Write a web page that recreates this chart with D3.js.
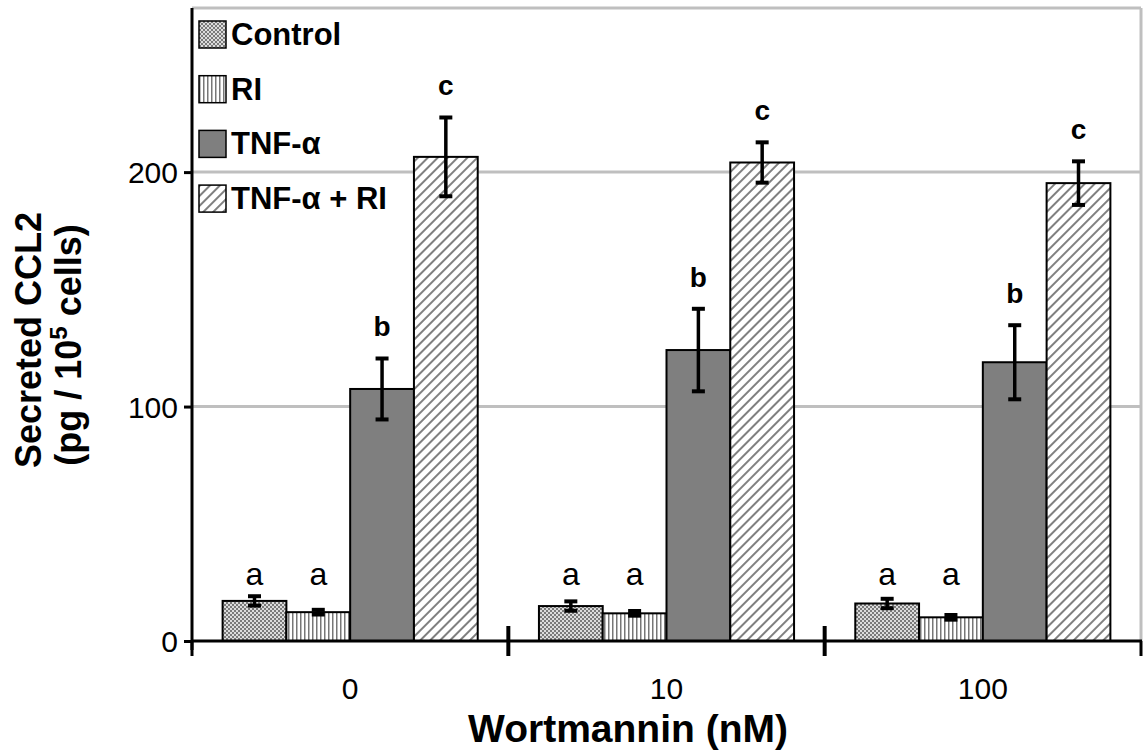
<!DOCTYPE html>
<html><head><meta charset="utf-8">
<script src="https://cdn.jsdelivr.net/npm/d3@7"></script>
<style>body{margin:0;background:#fff}svg{display:block}text{font-family:"Liberation Sans",Arial,sans-serif}</style>
</head><body>
<svg id="c" width="1144" height="751"></svg>
<script>
const groups = ["0", "10", "100"];
const series = ["Control", "RI", "TNF-α", "TNF-α + RI"];
const values = {
  "Control":    [17.1, 14.9, 16.0],
  "RI":         [12.3, 11.8, 10.1],
  "TNF-α":      [107.5, 124.1, 118.9],
  "TNF-α + RI": [206.5, 204.1, 195.3]
};
const errors = {
  "Control":    [2.0, 2.0, 2.0],
  "RI":         [1.0, 1.0, 1.0],
  "TNF-α":      [13.0, 17.6, 15.8],
  "TNF-α + RI": [16.8, 8.6, 9.3]
};
const letters = {
  "Control": ["a","a","a"],
  "RI": ["a","a","a"],
  "TNF-α": ["b","b","b"],
  "TNF-α + RI": ["c","c","c"]
};
const yTicks = [0, 100, 200];
const yMax = 270;

const svg = d3.select("#c");
const defs = svg.append("defs");
const pc = defs.append("pattern").attr("id","pCtrl").attr("patternUnits","userSpaceOnUse").attr("width",4).attr("height",4);
pc.append("rect").attr("width",4).attr("height",4).attr("fill","#dcdcdc");
pc.append("rect").attr("x",0).attr("y",0).attr("width",2).attr("height",2).attr("fill","#7a7a7a");
pc.append("rect").attr("x",2).attr("y",2).attr("width",2).attr("height",2).attr("fill","#7a7a7a");
const pr = defs.append("pattern").attr("id","pRI").attr("patternUnits","userSpaceOnUse").attr("width",4).attr("height",4);
pr.append("rect").attr("width",4).attr("height",4).attr("fill","#fff");
pr.append("rect").attr("x",0).attr("width",1.5).attr("height",4).attr("fill","#777");
const pd = defs.append("pattern").attr("id","pDiag").attr("patternUnits","userSpaceOnUse").attr("width",7).attr("height",7).attr("patternTransform","rotate(45)");
pd.append("rect").attr("width",7).attr("height",7).attr("fill","#fff");
pd.append("rect").attr("x",0).attr("width",2).attr("height",7).attr("fill","#808080");
const fills = {"Control":"url(#pCtrl)","RI":"url(#pRI)","TNF-α":"#7f7f7f","TNF-α + RI":"url(#pDiag)"};

const L = 192, R = 1141, T = 8, B = 641;
const y = d3.scaleLinear().domain([0, yMax]).range([B, T]);
const x = d3.scaleBand().domain(groups).range([L, R]).paddingInner(0).paddingOuter(0);
const xi = d3.scaleBand().domain(series).range([0, x.bandwidth()]).paddingInner(0).paddingOuter(0.48);

svg.append("g").selectAll("line").data(yTicks.filter(d=>d>0)).join("line")
  .attr("x1",L).attr("x2",R).attr("y1",d=>y(d)).attr("y2",d=>y(d))
  .attr("stroke","#bfbfbf").attr("stroke-width",3);
svg.append("line").attr("x1",L).attr("x2",R).attr("y1",T).attr("y2",T).attr("stroke","#bfbfbf").attr("stroke-width",3);
svg.append("line").attr("x1",R).attr("x2",R).attr("y1",T).attr("y2",B).attr("stroke","#bfbfbf").attr("stroke-width",3);

const flat = [];
groups.forEach((g,gi)=>series.forEach(s=>flat.push({g,gi,s,v:values[s][gi],e:errors[s][gi],l:letters[s][gi]})));
svg.append("g").selectAll("rect").data(flat).join("rect")
  .attr("x",d=>x(d.g)+xi(d.s)).attr("width",xi.bandwidth())
  .attr("y",d=>y(d.v)).attr("height",d=>y(0)-y(d.v))
  .attr("fill",d=>fills[d.s]).attr("stroke","#000").attr("stroke-width",2);

const eg = svg.append("g").attr("stroke","#000");
flat.forEach(d=>{
  const cx = x(d.g)+xi(d.s)+xi.bandwidth()/2;
  eg.append("line").attr("stroke-width",3.5).attr("x1",cx).attr("x2",cx).attr("y1",y(d.v+d.e)).attr("y2",y(d.v-d.e));
  eg.append("line").attr("stroke-width",4).attr("x1",cx-6.5).attr("x2",cx+6.5).attr("y1",y(d.v+d.e)).attr("y2",y(d.v+d.e));
  eg.append("line").attr("stroke-width",4).attr("x1",cx-6.5).attr("x2",cx+6.5).attr("y1",y(d.v-d.e)).attr("y2",y(d.v-d.e));
});

const aLevel = d3.max(flat.filter(d=>d.l==="a"), d=>d.v+d.e);
svg.append("g").selectAll("text").data(flat).join("text")
  .attr("x",d=>x(d.g)+xi(d.s)+xi.bandwidth()/2)
  .attr("y",d=>d.l==="a" ? y(aLevel)-11 : y(d.v+d.e)-22)
  .attr("text-anchor","middle")
  .attr("font-size",d=>d.l==="a"?32:28)
  .attr("font-weight",d=>d.l==="a"?"normal":"bold")
  .text(d=>d.l);

const ya = svg.append("g").attr("transform",`translate(${L},0)`)
  .call(d3.axisLeft(y).tickValues(yTicks).tickSize(8).tickPadding(6).tickFormat(d3.format("d")));
ya.select(".domain").remove();
ya.selectAll(".tick line").attr("stroke","#000").attr("stroke-width",3);
ya.selectAll(".tick text").attr("font-size",30).attr("dy","0.35em").attr("fill","#000");
svg.append("line").attr("x1",L).attr("x2",L).attr("y1",T).attr("y2",B+9).attr("stroke","#000").attr("stroke-width",3);

const xa = svg.append("g").attr("transform",`translate(0,${B})`)
  .call(d3.axisBottom(x).tickSize(0).tickPadding(47));
xa.select(".domain").remove();
xa.selectAll(".tick text").attr("font-size",30).attr("fill","#000").attr("dy","0.35em");
svg.append("line").attr("x1",L).attr("x2",R+1).attr("y1",B).attr("y2",B).attr("stroke","#000").attr("stroke-width",3);
const bounds = groups.map(g=>x(g)).concat([x(groups[groups.length-1])+x.bandwidth()]);
svg.append("g").selectAll("line").data(bounds).join("line")
  .attr("x1",d=>d).attr("x2",d=>d)
  .attr("y1",(d,i)=> (i===0||i===bounds.length-1) ? B : B-15)
  .attr("y2",B+15)
  .attr("stroke","#000").attr("stroke-width",(d,i)=>(i===0||i===bounds.length-1)?3:4);

svg.append("text").attr("x",628).attr("y",742).attr("text-anchor","middle")
  .attr("font-size",39).attr("font-weight","bold").text("Wortmannin (nM)");
const yt = svg.append("text").attr("transform","translate(41,340) rotate(-90)")
  .attr("text-anchor","middle").attr("font-size",36).attr("font-weight","bold");
yt.append("tspan").attr("x",0).attr("y",0).text("Secreted CCL2");
const l2 = svg.append("text").attr("transform","translate(81,345) rotate(-90)")
  .attr("text-anchor","middle").attr("font-size",36).attr("font-weight","bold");
l2.append("tspan").text("(pg / 10");
l2.append("tspan").attr("font-size",24).attr("dy",-14).text("5");
l2.append("tspan").attr("dy",14).text(" cells)");

const lg = svg.append("g").selectAll("g").data(series).join("g")
  .attr("transform",(d,i)=>`translate(199,${21+i*54.7})`);
lg.append("rect").attr("width",27).attr("height",27).attr("fill",d=>fills[d]).attr("stroke","#000").attr("stroke-width",1.5);
lg.append("text").attr("x",32).attr("y",24).attr("font-size",31).attr("font-weight","bold").text(d=>d);
</script>
</body></html>
